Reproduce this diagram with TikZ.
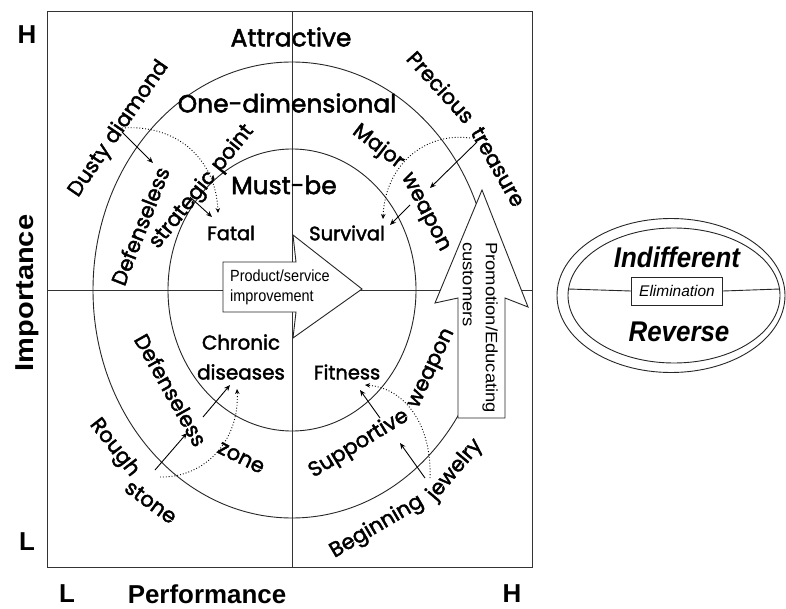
\documentclass[tikz,border=0pt]{standalone}
\usepackage{fontspec}
\setmainfont{Liberation Sans}
\newfontfamily\gothic[FakeBold=2]{Poppins}
\usetikzlibrary{arrows.meta}
\begin{document}
\begin{tikzpicture}[x=1bp,y=-1bp,
  frame/.style={line width=1bp,draw=black!80},
  ring/.style={line width=0.9bp,draw=black!85},
  lab/.style={font=\gothic\fontsize{19.5}{21}\selectfont,inner sep=0pt},
  rlab/.style={font=\gothic\fontsize{21}{23}\selectfont,inner sep=0pt},
  headl/.style={font=\gothic\fontsize{25}{28}\selectfont,inner sep=0pt},
  axisl/.style={font=\bfseries\fontsize{26}{28}\selectfont,inner sep=0pt},
  smalltxt/.style={font=\fontsize{16.5}{20}\selectfont,inner sep=0pt},
  solidarr/.style={-{Stealth[length=6bp,width=5bp]},line width=0.9bp},
  dotarr/.style={dotted,-{Stealth[length=5bp,width=4.5bp]},line width=0.9bp},
  bigarrow/.style={line width=0.9bp,draw=black!85,fill=white}]
\useasboundingbox (0,0) rectangle (786,609);
\fill[white] (0,0) rectangle (786,609);
% frame and axes
\draw[frame] (47,12) rectangle (532,567);
\draw[frame] (292,12) -- (292,567);
\draw[frame] (47,290) -- (532,290);
% rings
\draw[ring] (292,290) ellipse [x radius=199,y radius=228];
\draw[ring] (292,290) ellipse [x radius=124,y radius=141];
% big arrows
\draw[bigarrow] (223,262) -- (296,262) -- (293,235) -- (362,289) -- (293,338) -- (296,312) -- (223,312) -- cycle;
\draw[bigarrow] (458,418) -- (458,298) -- (435,303) -- (482,190) -- (528,307) -- (505,298) -- (505,418) -- cycle;
\node[smalltxt,font=\fontsize{14.5}{20}\selectfont,align=left,anchor=west] (psi) at (230,287) {\scalebox{1}[1.12]{Product/service}\\\scalebox{1}[1.12]{improvement}};
\node[smalltxt,rotate=-90,anchor=west] (pec1) at (490,242) {\scalebox{1.12}[1]{Promotion/Educating}};
\node[smalltxt,rotate=-90,anchor=west] (pec2) at (468,242) {\scalebox{1.12}[1]{customers}};
% axis labels
\node[axisl] (hy) at (27,35) {H};
\node[axisl] (ly) at (27,542) {L};
\node[axisl] (lx) at (67,594) {L};
\node[axisl] (hx) at (512,594) {H};
\node[axisl,rotate=90] (imp) at (27,293) {\scalebox{1.12}[1]{Importance}};
\node[axisl] (perf) at (207,594) {Performance};
% headings
\node[headl] (attr) at (291,37) {Attractive};
\node[headl] (oned) at (287,103) {One-dimensional};
\node[headl] (must) at (284,185) {Must-be};
% inner labels
\node[lab] (fatal) at (231,233) {Fatal};
\node[lab] (surv) at (347,233) {Survival};
\node[lab,align=center,font=\gothic\fontsize{20}{30}\selectfont] (chron) at (241,357) {Chronic\\diseases};
\node[lab] (fit) at (347,372) {Fitness};
% ring labels
\node[rlab,rotate=55.5] (dusty) at (119,129) {Dusty diamond};
\node[rlab,rotate=68.6] (def1) at (140,226) {Defenseless};
\node[rlab,rotate=51] (strat) at (202,187) {strategic point};
\node[rlab,rotate=-37.6] (major) at (378,147) {Major};
\node[rlab,rotate=-62.5] (weap1) at (424,213) {weapon};
\node[rlab,rotate=-47.7] (prec) at (441,87) {Precious};
\node[rlab,rotate=-60.3] (treas) at (498,167) {treasure};
\node[rlab,rotate=-60.6] (def2) at (171,390) {Defenseless};
\node[rlab,rotate=-26.6] (zone) at (241,458) {zone};
\node[rlab,rotate=-52] (rough) at (114,448) {Rough};
\node[rlab,rotate=-36] (stone) at (151,502) {stone};
\node[rlab,rotate=31.3] (supp) at (359,444) {Supportive};
\node[rlab,rotate=64.9] (weap2) at (433,369) {weapon};
\node[rlab,rotate=30.5] (begin) at (377,527) {Beginning};
\node[rlab,rotate=49.6] (jew) at (455,470) {jewelry};
% arrow end points
\coordinate (tl1) at (122,132); \coordinate (tl2) at (153,163);
\coordinate (tl3) at (190,197); \coordinate (tl4) at (212,217);
\coordinate (tld1) at (122,128); \coordinate (tld2) at (218,213);
\coordinate (tr1) at (477,142); \coordinate (tr2) at (430,188);
\coordinate (tr3) at (410,205); \coordinate (tr4) at (390,225);
\coordinate (trd1) at (470,138); \coordinate (trd2) at (383,219);
\coordinate (bl1) at (155,470); \coordinate (bl2) at (187,433);
\coordinate (bl3) at (203,417); \coordinate (bl4) at (230,385);
\coordinate (bld1) at (160,477); \coordinate (bld2) at (237,389);
\coordinate (br1) at (425,478); \coordinate (br2) at (400,443);
\coordinate (br3) at (380,418); \coordinate (br4) at (360,390);
\coordinate (brd1) at (430,478); \coordinate (brd2) at (365,385);
% small arrows
\draw[solidarr] (tl1) -- (tl2);
\draw[solidarr] (tl3) -- (tl4);
\draw[dotarr] (tld1) .. controls (178,124) and (216,160) .. (tld2);
\draw[solidarr] (tr1) -- (tr2);
\draw[solidarr] (tr3) -- (tr4);
\draw[dotarr] (trd1) .. controls (425,132) and (385,165) .. (trd2);
\draw[solidarr] (bl1) -- (bl2);
\draw[solidarr] (bl3) -- (bl4);
\draw[dotarr] (bld1) .. controls (205,478) and (240,440) .. (bld2);
\draw[solidarr] (br1) -- (br2);
\draw[solidarr] (br3) -- (br4);
\draw[dotarr] (brd1) .. controls (432,425) and (405,388) .. (brd2);
% right ellipse
\draw[ring] (671,295.5) ellipse [x radius=114,y radius=77];
\draw[ring] (674,295.5) ellipse [x radius=106,y radius=67.5];
\coordinate (el) at (568,289); \coordinate (er) at (780,289);
\node[draw=black!85,line width=0.9bp,fill=white,minimum width=91bp,minimum height=28bp,inner sep=1pt,font=\itshape\fontsize{15.5}{18}\selectfont] (elim) at (677,291) {Elimination};
\draw[ring] (el) -- (elim.west);
\draw[ring] (elim.east) -- (er);
\node[font=\bfseries\itshape\fontsize{26}{28}\selectfont,inner sep=0pt] (ind) at (677,257) {\scalebox{1}[1.1]{Indifferent}};
\node[font=\bfseries\itshape\fontsize{26}{28}\selectfont,inner sep=0pt] (rev) at (679,332) {\scalebox{1}[1.1]{Reverse}};
\end{tikzpicture}
\end{document}
